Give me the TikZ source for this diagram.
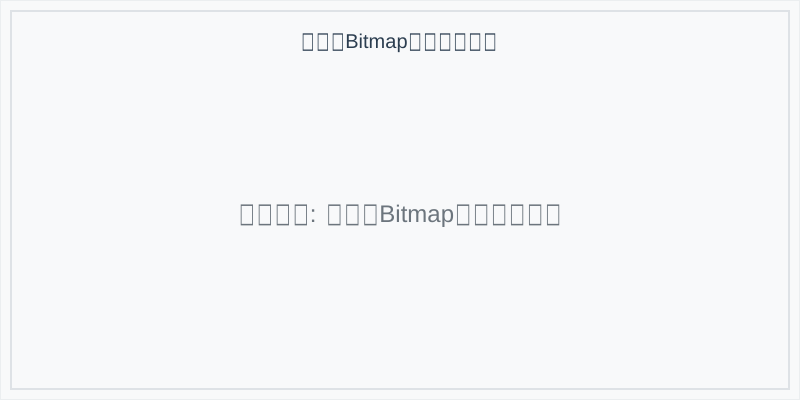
\documentclass[tikz,border=0pt]{standalone}
\usepackage{fontspec}
\usepackage{graphicx}
\setmainfont{Liberation Sans}
\newfontfamily\symfont{DejaVu Sans}
\definecolor{bgfill}{HTML}{F8F9FA}
\definecolor{frame}{HTML}{DEE2E6}
\definecolor{titlecol}{HTML}{2C3E50}
\definecolor{msgcol}{HTML}{6C757D}
\newcommand\tofu{\makebox[0.75em]{\scalebox{0.67}[1.14]{\symfont □}}}
\tikzset{
  titletext/.style={font=\fontsize{20}{24}\selectfont, text=titlecol, inner sep=0pt},
  msgtext/.style={font=\fontsize{24}{28}\selectfont, text=msgcol, inner sep=0pt}
}
\begin{document}
\begin{tikzpicture}[x=1pt,y=-1pt]
\useasboundingbox (0,0) rectangle (800,400);
\fill[bgfill] (0,0) rectangle (800,400);
\draw[frame!60, line width=1pt] (0.5,0.5) rectangle (799.5,399.5);
\draw[frame, line width=2pt] (11,11) rectangle (789,389);
\node[titletext, anchor=base] (title) at (399,48) {\tofu\tofu\tofu Bitmap\tofu\tofu\tofu\tofu\tofu\tofu};
\node[msgtext, anchor=base] (msg) at (400,222) {\tofu\tofu\tofu\tofu: \tofu\tofu\tofu Bitmap\tofu\tofu\tofu\tofu\tofu\tofu};
\end{tikzpicture}
\end{document}
